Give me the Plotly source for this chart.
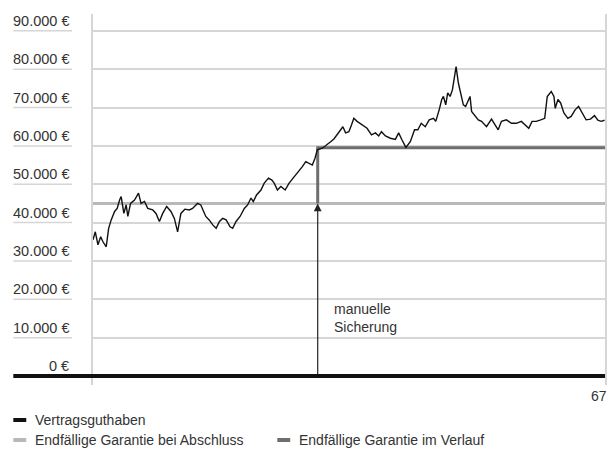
import plotly.graph_objects as go

# ---- data ----
monate = [0, 1.6, 3.5, 5.4, 7, 9.3, 11, 12.8, 15.2, 17, 18.7, 19.8, 21.7, 23.3, 24.5, 26.4, 29.2, 32, 33.8,
          36.2, 38.5, 42, 44.3, 46.7, 49, 51.8, 54.8, 57.2, 59.5, 61.8, 64.6, 67.7, 70, 73.5, 75.8, 79.3,
          81.7, 84.2, 86.6, 88.9, 91.2, 93.6, 96.4, 98.2, 100.6, 103.4, 106.4, 108.7, 111.1, 112.7, 115,
          118.1, 120.4, 123.4, 125.8, 127.4, 129.7, 132.1, 135.1, 137.9, 140.7, 143.7, 147.2, 149.6, 151.9,
          154.2, 156.1, 157.7, 161.2, 164.7, 167.1, 169.4, 172.4, 174.1, 175.7, 177.6, 179.9, 181.8, 183.4,
          185.7, 189.2, 192.7, 195.8, 198.6, 200.9, 202.8, 205.6, 209.1, 212.6, 214.9, 217.2, 220, 223.1,
          226.1, 228.4, 230.8, 233.6, 236.4, 239.4, 241, 243.4, 245.2, 246.4, 248, 249.4, 251.1, 252.7,
          253.9, 255.3, 256.9, 258.8, 260.4, 262, 263.4, 265.1, 266.2, 268.6, 270.9, 273.2, 276.7, 280.2,
          282.6, 284.9, 287.2, 290.7, 294.2, 297.7, 301.2, 303.6, 306.4, 308.7, 311.7, 314.8, 317.6, 319.4,
          321.1, 322.2, 324.1, 325, 326.9, 328.8, 331.1, 333.9, 336.2, 339, 341.4, 343.7, 346.7, 349.8,
          352.6, 355, 357.3, 359.7]
guthaben = [35.5, 37.6, 34.2, 36.3, 35.0, 33.7, 38.5, 40.7, 42.9, 43.7, 45.9, 46.8, 42.4, 44.6, 41.6, 45.0,
            45.9, 47.7, 45.0, 45.5, 43.7, 43.3, 42.4, 40.3, 42.4, 44.2, 42.9, 41.1, 37.6, 42.4, 43.5, 43.3,
            43.7, 45.0, 44.6, 41.6, 40.7, 39.4, 38.5, 40.3, 41.1, 40.7, 38.9, 38.5, 40.3, 41.6, 43.7, 44.6,
            46.4, 45.5, 47.2, 48.5, 50.3, 51.6, 51.1, 50.3, 48.5, 49.4, 48.5, 50.3, 51.6, 52.9, 54.6, 55.9,
            55.5, 55.0, 56.8, 59.0, 59.4, 60.3, 61.1, 61.8, 63.4, 64.2, 65.0, 63.4, 63.7, 65.5, 67.2, 66.4,
            65.5, 64.6, 62.9, 63.4, 62.6, 63.7, 62.6, 62.0, 61.7, 63.4, 61.6, 59.6, 61.1, 64.2, 64.2, 65.9,
            65.0, 66.8, 67.2, 66.4, 69.4, 72.1, 72.9, 70.7, 73.8, 72.9, 74.6, 77.2, 80.7, 76.4, 72.9, 70.7,
            70.3, 71.6, 72.9, 69.0, 67.7, 66.8, 66.4, 65.0, 67.0, 65.5, 64.2, 66.4, 66.8, 65.9, 65.9, 66.4,
            65.5, 64.6, 66.4, 66.4, 66.8, 67.2, 72.9, 73.8, 74.2, 72.9, 69.8, 72.1, 71.2, 68.6, 67.2, 67.7,
            69.4, 70.3, 68.6, 66.8, 67.0, 67.9, 66.7, 66.4, 66.7]
guthaben = [v * 1000 for v in guthaben]

monat_ende = 360
sicherung_monat = 158
garantie_abschluss = 45000
garantie_verlauf = 59500

y_ticks = [0, 10000, 20000, 30000, 40000, 50000, 60000, 70000, 80000, 90000]
y_labels = ["0 €", "10.000 €", "20.000 €", "30.000 €", "40.000 €", "50.000 €",
            "60.000 €", "70.000 €", "80.000 €", "90.000 €"]
x_label_ende = "67"

legend_names = ["Vertragsguthaben", "Endfällige Garantie bei Abschluss", "Endfällige Garantie im Verlauf"]
farbe_guthaben = "#111111"
farbe_abschluss = "#b9b9b9"
farbe_verlauf = "#6e6e6e"

# ---- layout helpers (pixel -> paper) ----
W, H = 614, 449
L, R, T, B = 93, 7, 14, 64
PW, PH = W - L - R, H - T - B
def px(X): return (X - L) / PW
def py(Y): return (H - B - Y) / PH

FONT = "Liberation Sans, Arial, sans-serif"
TXT = "#333333"

fig = go.Figure()
fig.add_trace(go.Scatter(x=[0, monat_ende], y=[garantie_abschluss] * 2, mode="lines",
                         line=dict(color=farbe_abschluss, width=3), showlegend=False, hoverinfo="skip"))
fig.add_trace(go.Scatter(x=[sicherung_monat, sicherung_monat, monat_ende],
                         y=[garantie_abschluss, garantie_verlauf, garantie_verlauf], mode="lines",
                         line=dict(color=farbe_verlauf, width=3), showlegend=False, hoverinfo="skip"))
fig.add_trace(go.Scatter(x=monate, y=guthaben, mode="lines",
                         line=dict(color=farbe_guthaben, width=1.4), showlegend=False))

shapes = []
annotations = []
for v, lab in zip(y_ticks, y_labels):
    annotations.append(dict(x=px(71), xref="paper", y=v, yref="y", text=lab, showarrow=False,
                            xanchor="right", yanchor="middle", yshift=10,
                            font=dict(family=FONT, size=14.5, color=TXT)))
    if v != 0:
        shapes.append(dict(type="line", xref="paper", yref="y", x0=px(13), x1=px(72), y0=v, y1=v,
                           line=dict(color="#d6d6d6", width=1.5), layer="below"))
# thick zero line
shapes.append(dict(type="line", xref="paper", yref="y", x0=px(13), x1=1, y0=0, y1=0,
                   line=dict(color="#111111", width=4)))

# arrow
annotations.append(dict(x=sicherung_monat, y=garantie_abschluss, ax=sicherung_monat, ay=0,
                        xref="x", yref="y", axref="x", ayref="y", showarrow=True, text="",
                        arrowhead=2, arrowsize=1.3, arrowwidth=1.2, arrowcolor="#222222"))
annotations.append(dict(x=sicherung_monat + 10, y=15000, xref="x", yref="y",
                        text="manuelle<br>Sicherung", showarrow=False, xanchor="left", yanchor="middle",
                        align="left", font=dict(family=FONT, size=14, color=TXT)))
# x end label
annotations.append(dict(x=monat_ende, xref="x", y=py(396), yref="paper", text=x_label_ende,
                        showarrow=False, xanchor="right", yanchor="middle", xshift=4,
                        font=dict(family=FONT, size=14, color=TXT)))

# manual legend
leg = [(13, 420, farbe_guthaben, legend_names[0]),
       (13, 440, farbe_abschluss, legend_names[1]),
       (278, 440, farbe_verlauf, legend_names[2])]
for X, Y, c, name in leg:
    shapes.append(dict(type="line", xref="paper", yref="paper", x0=px(X), x1=px(X + 13),
                       y0=py(Y), y1=py(Y), line=dict(color=c, width=4)))
    annotations.append(dict(x=px(X + 20), xref="paper", y=py(Y), yref="paper", text=name,
                            showarrow=False, xanchor="left", yanchor="middle",
                            font=dict(family=FONT, size=14, color=TXT)))

fig.update_layout(
    width=W, height=H, margin=dict(l=L, r=R, t=T, b=B),
    paper_bgcolor="white", plot_bgcolor="white",
    xaxis=dict(range=[0, monat_ende], showgrid=False, zeroline=False, showticklabels=False,
               showline=False, ticks=""),
    yaxis=dict(range=[-2350, 94400], tickvals=y_ticks, showticklabels=False, showgrid=True,
               gridcolor="#d6d6d6", gridwidth=1.5, zeroline=False, showline=True, mirror=True,
               linecolor="#d6d6d6", linewidth=2, ticks=""),
    shapes=shapes, annotations=annotations, showlegend=False,
)
fig.write_html("out.html", config={"displayModeBar": False},
               post_script="document.body.style.margin='0';document.body.style.overflow='hidden';")
